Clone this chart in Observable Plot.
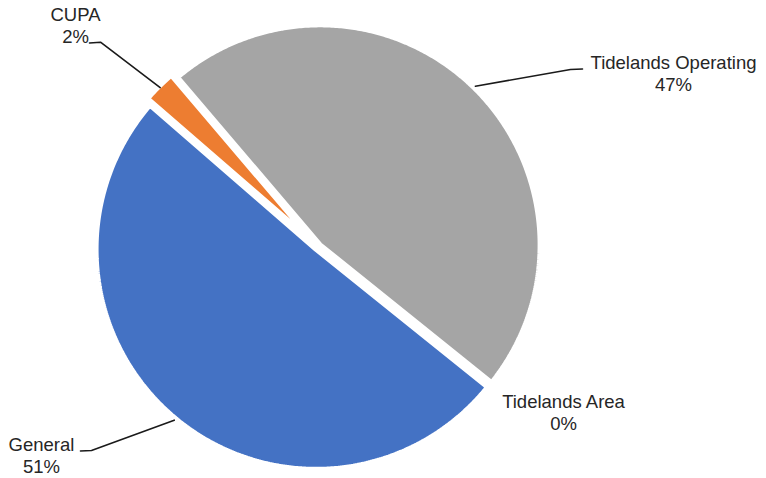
<!DOCTYPE html>
<html>
<head>
<meta charset="utf-8">
<script src="https://cdn.jsdelivr.net/npm/d3@7"></script>
<script src="https://cdn.jsdelivr.net/npm/@observablehq/plot@0.6"></script>
<style>
  html, body { margin: 0; padding: 0; background: #ffffff; }
  #chart { width: 766px; height: 478px; }
</style>
</head>
<body>
<div id="chart"></div>
<script>
// ---- data ----
const categories = ["General", "CUPA", "Tidelands Operating", "Tidelands Area"];
const shares = [50.6, 2.4, 47.0, 0.0];
const sliceColors = ["#4472C4", "#ED7D31", "#A5A5A5", "#FFC000"];

// ---- layout (pixels) ----
const W = 766, H = 478;
const CX = 318, CY = 247, RPX = 220;
const START_DEG = 128.8;
const explodePx = {"General": 3, "CUPA": 6, "Tidelands Operating": 3, "Tidelands Area": 0};
// label text blocks: center x, baseline of last line; leader: label-side points
const labelLayout = {
  "CUPA": {x: 75, y: 42, leader: [[89, 42.5], [100, 41.7]]},
  "Tidelands Operating": {x: 673, y: 90.5, leader: [[582, 68.5], [570, 69]]},
  "Tidelands Area": {x: 563, y: 429.5, leader: null},
  "General": {x: 41, y: 472.5, leader: [[80, 450.5], [91, 450]]}
};

const ux = px => (px - CX) / RPX;
const uy = py => (CY - py) / RPX;

const rows = categories.map((c, i) => ({cat: c, value: shares[i]}));
const total = d3.sum(shares);
const start = START_DEG * Math.PI / 180;
const arcs = d3.pie().sort(null).value(d => d.value)
  .startAngle(start).endAngle(start + 2 * Math.PI)(rows);

// slice polygons (apex -> arc) for Plot.area
const slicePts = [];
const leaderPts = [];
const labels = [];
for (const a of arcs) {
  const cat = a.data.cat;
  const mid = (a.startAngle + a.endAngle) / 2;
  const ex = explodePx[cat] / RPX;
  const ox = Math.sin(mid) * ex, oy = Math.cos(mid) * ex;
  if (a.data.value > 0) {
    const n = Math.max(4, Math.ceil((a.endAngle - a.startAngle) * 180 / Math.PI * 2));
    for (let i = 0; i <= n; i++) {
      const t = a.startAngle + (a.endAngle - a.startAngle) * i / n;
      slicePts.push({cat, x1: ox, y1: oy, x2: ox + Math.sin(t), y2: oy + Math.cos(t)});
    }
  }
  const L = labelLayout[cat];
  if (L.leader) {
    for (const [px, py] of L.leader) leaderPts.push({cat, x: ux(px), y: uy(py)});
    const rr = 1 + 5 / RPX;
    leaderPts.push({cat, x: Math.sin(mid) * rr, y: Math.cos(mid) * rr});
  }
  labels.push({cat, x: ux(L.x), y: uy(L.y),
    text: cat + "\n" + Math.round(a.data.value / total * 100) + "%"});
}

const chart = Plot.plot({
  width: W,
  height: H,
  margin: 0,
  style: {fontFamily: "'Liberation Sans', Arial, sans-serif", background: "#ffffff"},
  x: {domain: [ux(0), ux(W)], range: [0, W], axis: null},
  y: {domain: [uy(H), uy(0)], range: [H, 0], axis: null},
  color: {domain: categories, range: sliceColors},
  marks: [
    Plot.area(slicePts, {x1: "x1", y1: "y1", x2: "x2", y2: "y2", z: "cat", fill: "cat",
      stroke: "#ffffff", strokeWidth: 5, strokeLinejoin: "miter", curve: "linear"}),
    Plot.line(leaderPts, {x: "x", y: "y", z: "cat", stroke: "#1a1a1a", strokeWidth: 1.6, curve: "linear"}),
    Plot.text(labels, {x: "x", y: "y", text: "text", fill: "#262626", fontSize: 18.5,
      lineAnchor: "bottom", lineHeight: 1.18, textAnchor: "middle"})
  ]
});
document.getElementById("chart").appendChild(chart);
</script>
</body>
</html>
